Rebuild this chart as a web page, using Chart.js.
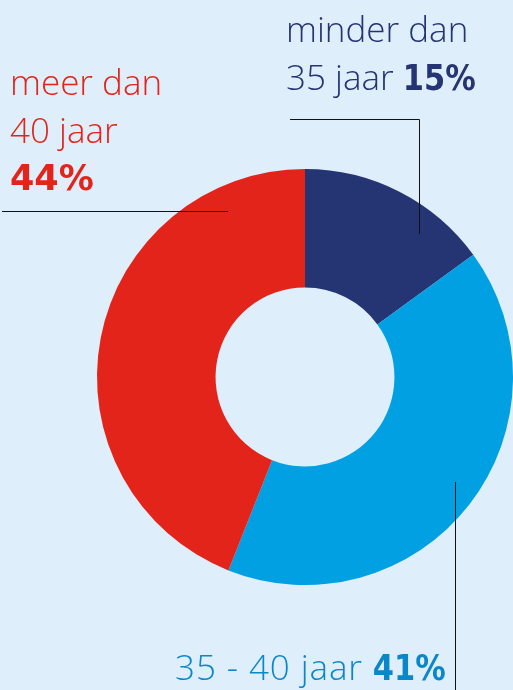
<!DOCTYPE html>
<html>
<head>
<meta charset="utf-8">
<script src="https://cdn.jsdelivr.net/npm/chart.js@4"></script>
<style>
  html, body { margin: 0; padding: 0; background: #deeefa; }
  #wrap { width: 513px; height: 690px; position: relative; }
</style>
</head>
<body>
<div id="wrap"><canvas id="chart" width="513" height="690"></canvas></div>
<script>
// leeftijdsverdeling
const categories = ['minder dan 35 jaar', '35 - 40 jaar', 'meer dan 40 jaar'];
const values = [15, 41, 44];
const colors = ['#253473', '#00a0e2', '#e3241b'];

const labelsPlugin = {
    id: 'labels',
    afterDraw(chart) {
        let ctx = chart.ctx;
        ctx.save();
        // leader lines
        ctx.strokeStyle = '#111';
        ctx.lineWidth = 1;
        ctx.beginPath();
        ctx.moveTo(290, 119.5); ctx.lineTo(419.5, 119.5); ctx.lineTo(419.5, 234);
        ctx.moveTo(2, 211.5); ctx.lineTo(228, 211.5);
        ctx.moveTo(455.5, 482); ctx.lineTo(455.5, 690);
        ctx.stroke();

        ctx.textBaseline = 'alphabetic';
        ctx.textAlign = 'left';
        let light = '300 35px "Open Sans"';
        let bold = 'bold 35px "DejaVu Sans"';

        // parts: [text, isBold, maxWidth]
        function line(parts, x, y, color, spacing) {
            ctx.fillStyle = color;
            for (let p of parts) {
                ctx.font = p[1] ? bold : light;
                ctx.letterSpacing = (!p[1] && spacing) ? spacing + 'px' : '0px';
                if (p[2]) ctx.fillText(p[0], x, y, p[2]);
                else ctx.fillText(p[0], x, y);
                x += p[2] ? Math.min(p[2], ctx.measureText(p[0]).width) : ctx.measureText(p[0]).width;
            }
        }
        line([['minder dan', 0]], 286, 42, '#253473');
        line([['35 jaar ', 0], [values[0] + '%', 1, 73]], 286, 90, '#253473');
        line([['meer dan', 0]], 10, 95, '#e3241b');
        line([['40 jaar', 0]], 10, 143, '#e3241b');
        line([[values[2] + '%', 1]], 10, 190, '#e3241b');
        line([['35 - 40 jaar ', 0], [values[1] + '%', 1, 73]], 175, 680, '#0a87c8', 0.9);
        ctx.restore();
    }
};

new Chart(document.getElementById('chart'), {
    type: 'doughnut',
    data: {
        labels: categories,
        datasets: [{
            data: values,
            backgroundColor: colors,
            borderWidth: 0
        }]
    },
    options: {
        responsive: false,
        animation: false,
        cutout: '43%',
        layout: { padding: { left: 97, right: 0, top: 169, bottom: 105 } },
        plugins: { legend: { display: false }, tooltip: { enabled: false } }
    },
    plugins: [labelsPlugin]
});
</script>
</body>
</html>
